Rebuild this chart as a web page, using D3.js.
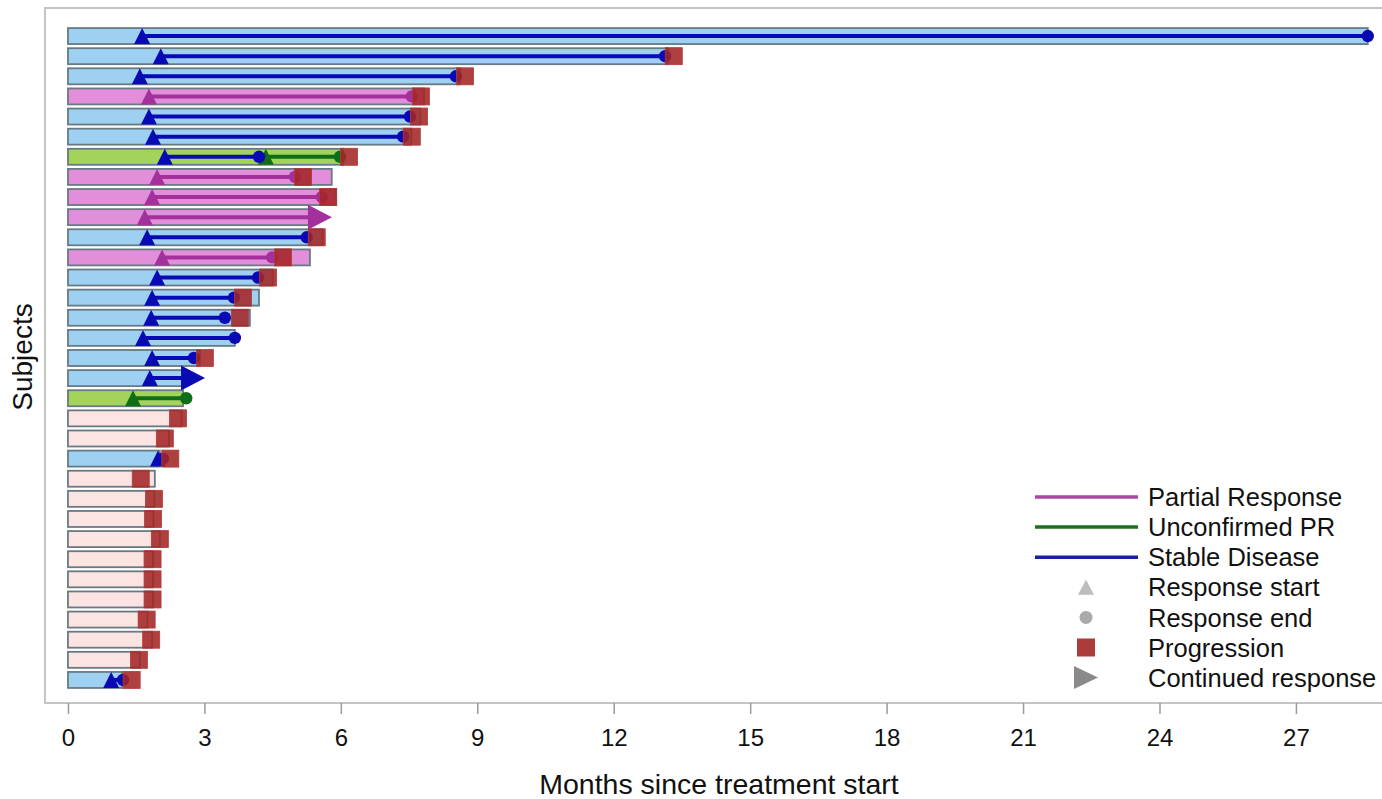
<!DOCTYPE html>
<html>
<head>
<meta charset="utf-8">
<script src="https://cdn.jsdelivr.net/npm/d3@7/dist/d3.min.js"></script>
<style>
  html, body { margin: 0; padding: 0; background: #fff; }
  svg { display: block; font-family: Arial, "Liberation Sans", Helvetica, sans-serif; }
</style>
</head>
<body>
<svg id="chart" width="1382" height="799"></svg>
<script>
// ---------- DATA ----------
const subjects = d3.range(1, 34).map(i => "S" + String(i).padStart(2, "0"));
const barEnd = [28.58, 13.19, 8.62, 7.83, 7.75, 7.55, 6.05, 5.80, 5.90, 5.32,
                5.60, 5.32, 4.50, 4.20, 4.00, 3.67, 2.90, 2.51, 2.53, 2.50,
                2.22, 2.02, 1.91, 1.90, 1.88, 2.02, 1.87, 1.87, 1.87, 1.75,
                1.85, 1.58, 1.19];
const bestResponse = ["SD","SD","SD","PR","SD","SD","uPR","PR","PR","PR",
                      "SD","PR","SD","SD","SD","SD","SD","SD","uPR","None",
                      "None","SD","None","None","None","None","None","None","None","None",
                      "None","None","SD"];

const respSubject = ["S01","S02","S03","S04","S05","S06","S07","S07","S08","S09","S10",
                     "S11","S12","S13","S14","S15","S16","S17","S18","S19","S22","S33"];
const respType    = ["SD","SD","SD","PR","SD","SD","SD","uPR","PR","PR","PR",
                     "SD","PR","SD","SD","SD","SD","SD","SD","uPR","SD","SD"];
const respStart   = [1.63, 2.04, 1.58, 1.78, 1.78, 1.87, 2.13, 4.35, 1.96, 1.85, 1.69,
                     1.74, 2.07, 1.96, 1.85, 1.83, 1.65, 1.85, 1.80, 1.43, 1.98, 0.95];
const respEnd     = [28.58, 13.13, 8.53, 7.56, 7.52, 7.37, 4.20, 5.98, 4.99, 5.58, 5.54,
                     5.25, 4.49, 4.18, 3.65, 3.45, 3.67, 2.77, 2.75, 2.60, 2.09, 1.21];
const respEndKind = ["end","end","end","end","end","end","end","end","end","end","continued",
                     "end","end","end","end","end","end","end","continued","end","end","end"];

const progSubject = ["S02","S03","S04","S05","S06","S07","S08","S09","S11","S12","S13","S14",
                     "S15","S17","S20","S21","S22","S23","S24","S25","S26","S27","S28","S29",
                     "S30","S31","S32","S33"];
const progTime    = [13.32, 8.73, 7.76, 7.72, 7.56, 6.18, 5.17, 5.72, 5.47, 4.73, 4.40, 3.85,
                     3.78, 3.01, 2.42, 2.13, 2.25, 1.60, 1.89, 1.87, 2.02, 1.86, 1.86, 1.86,
                     1.73, 1.83, 1.56, 1.40];

const xTicks = [0, 3, 6, 9, 12, 15, 18, 21, 24, 27];
const legendLines = ["Partial Response", "Unconfirmed PR", "Stable Disease"];
const legendLineTypes = ["PR", "uPR", "SD"];
const legendMarkers = ["Response start", "Response end", "Progression", "Continued response"];

// ---------- STYLE ----------
const barFill = { SD: "#9dd0f1", PR: "#e28edb", uPR: "#a4d35c", None: "#fbe4e2" };
const lineColor = { SD: "#0a0ab4", PR: "#a3309b", uPR: "#0f6e17" };
const legendLineColor = { SD: "#1c1ca6", PR: "#a848a3", uPR: "#1d701d" };

const svg = d3.select("#chart");
const frame = { left: 45, top: 8, right: 1390, bottom: 703 };

const x = d3.scaleLinear().domain([-0.505, 28.9]).range([frame.left, frame.left + (28.9 + 0.505) * 45.48]);
const y = d3.scaleBand().domain(subjects).range([26, 690]).padding(0);
const yc = s => y(s) + y.bandwidth() / 2;
const barH = 16;

// frame
svg.append("rect")
  .attr("x", frame.left).attr("y", frame.top)
  .attr("width", frame.right - frame.left).attr("height", frame.bottom - frame.top)
  .attr("fill", "none").attr("stroke", "#c4c4c4").attr("stroke-width", 2);

// x axis
const xAxis = d3.axisBottom(x).tickValues(xTicks).tickSize(11).tickPadding(15);
const gx = svg.append("g").attr("transform", `translate(0,${frame.bottom})`).call(xAxis);
gx.select(".domain").remove();
gx.selectAll(".tick line").attr("stroke", "#9a9a9a").attr("stroke-width", 1.5);
gx.selectAll(".tick text").attr("font-size", 24).attr("fill", "#111")
  .attr("font-family", "Arial, 'Liberation Sans', sans-serif");

// axis titles
svg.append("text").attr("x", 719).attr("y", 794).attr("text-anchor", "middle")
  .attr("font-size", 28.5).attr("fill", "#111").text("Months since treatment start");
svg.append("text").attr("transform", "translate(32,357) rotate(-90)").attr("text-anchor", "middle")
  .attr("font-size", 28).attr("fill", "#111").text("Subjects");

// bars
const bars = subjects.map((s, i) => ({ s, end: barEnd[i], type: bestResponse[i] }));
svg.append("g").selectAll("rect").data(bars).join("rect")
  .attr("x", x(0)).attr("y", d => yc(d.s) - barH / 2)
  .attr("width", d => x(d.end) - x(0)).attr("height", barH)
  .attr("fill", d => barFill[d.type])
  .attr("stroke", "#687a84").attr("stroke-width", 1.8);

// response segments
const resp = respSubject.map((s, i) => ({ s, type: respType[i], start: respStart[i], end: respEnd[i], kind: respEndKind[i] }));
const gR = svg.append("g");
gR.selectAll("line").data(resp).join("line")
  .attr("x1", d => x(d.start)).attr("x2", d => x(d.end))
  .attr("y1", d => yc(d.s)).attr("y2", d => yc(d.s))
  .attr("stroke", d => lineColor[d.type]).attr("stroke-width", 4);

const triPath = (cx, cy, w, h) => `M${cx - w / 2},${cy + h / 2}L${cx},${cy - h / 2}L${cx + w / 2},${cy + h / 2}Z`;
const arrowPath = (cx, cy, w, h) => `M${cx - w / 2},${cy - h / 2}L${cx + w / 2},${cy}L${cx - w / 2},${cy + h / 2}Z`;

// start triangles
gR.selectAll("path.start").data(resp).join("path").attr("class", "start")
  .attr("d", d => triPath(x(d.start), yc(d.s), 16, 16))
  .attr("fill", d => lineColor[d.type]);

// end circles
gR.selectAll("circle.end").data(resp.filter(d => d.kind === "end")).join("circle").attr("class", "end")
  .attr("cx", d => x(d.end)).attr("cy", d => yc(d.s)).attr("r", 6.2)
  .attr("fill", d => lineColor[d.type]);

// continued arrows
gR.selectAll("path.cont").data(resp.filter(d => d.kind === "continued")).join("path").attr("class", "cont")
  .attr("d", d => arrowPath(x(d.end), yc(d.s), 24, 25))
  .attr("fill", d => lineColor[d.type]);

// progression squares
const prog = progSubject.map((s, i) => ({ s, t: progTime[i] }));
svg.append("g").selectAll("rect").data(prog).join("rect")
  .attr("x", d => x(d.t) - 8.5).attr("y", d => yc(d.s) - 8.5)
  .attr("width", 17).attr("height", 17)
  .attr("fill", "#a32626").attr("fill-opacity", 0.88)
  .attr("stroke", "#b33a3a").attr("stroke-width", 0.8);

// legend
const lg = svg.append("g").attr("font-size", 25.5).attr("fill", "#111");
const lgY0 = 497, lgStep = 30.1, lgTextX = 1148, lgSymX = 1086;
legendLines.forEach((t, i) => {
  const yy = lgY0 + i * lgStep;
  lg.append("line").attr("x1", 1035).attr("x2", 1138).attr("y1", yy).attr("y2", yy)
    .attr("stroke", legendLineColor[legendLineTypes[i]]).attr("stroke-width", 3.5);
  lg.append("text").attr("x", lgTextX).attr("y", yy).attr("dy", "0.36em").text(t);
});
legendMarkers.forEach((t, i) => {
  const yy = lgY0 + (i + 3) * lgStep;
  if (i === 0) lg.append("path").attr("d", triPath(lgSymX, yy, 16, 15)).attr("fill", "#bdbdbd");
  if (i === 1) lg.append("circle").attr("cx", lgSymX).attr("cy", yy).attr("r", 6.5).attr("fill", "#aaaaaa");
  if (i === 2) lg.append("rect").attr("x", lgSymX - 9).attr("y", yy - 9).attr("width", 18).attr("height", 18).attr("fill", "#a32626").attr("fill-opacity", 0.9);
  if (i === 3) lg.append("path").attr("d", arrowPath(lgSymX, yy, 24, 23)).attr("fill", "#8a8a8a");
  lg.append("text").attr("x", lgTextX).attr("y", yy).attr("dy", "0.36em").text(t);
});
</script>
</body>
</html>
